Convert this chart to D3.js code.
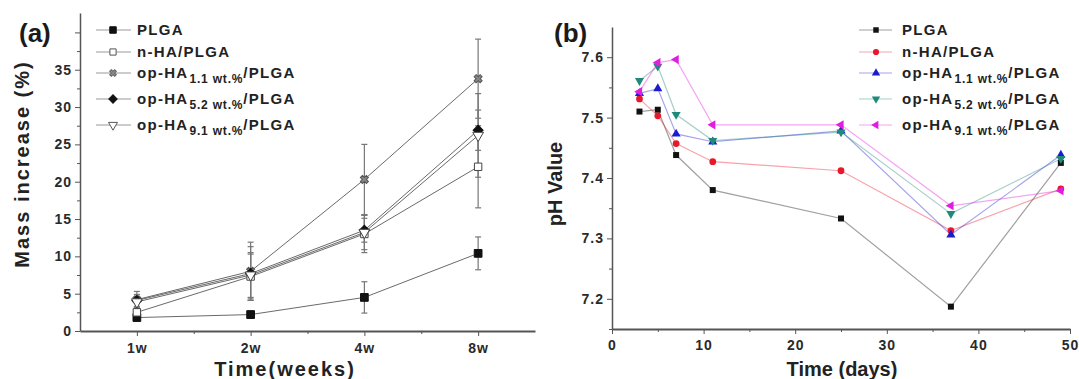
<!DOCTYPE html>
<html>
<head>
<meta charset="utf-8">
<style>
    body { margin: 0; background: white; }
    svg { display: block; font-family: 'Liberation Sans', Arial, sans-serif; font-weight: bold; }
    .axis path, .axis line { stroke: #555; }
    .axis text { fill: #2a2a2a; font-size: 14px; font-weight: bold; letter-spacing: 1px; font-family: 'Liberation Sans', Arial, sans-serif; }
</style>
</head>
<body>
<svg width="1079" height="379"></svg>
<script src="https://d3js.org/d3.v7.min.js"></script>
<script>
    // ---------- data, panel (a) ----------
    let weeks = ["1w", "2w", "4w", "8w"];
    let massNames = ["PLGA", "n-HA/PLGA", "op-HA|1.1 wt.%|/PLGA", "op-HA|5.2 wt.%|/PLGA", "op-HA|9.1 wt.%|/PLGA"];
    let massPLGA = [1.8, 2.2, 4.5, 10.4];
    let massNHA = [2.5, 7.3, 13.0, 22.0];
    let massOp11 = [4.2, 8.0, 20.3, 33.8];
    let massOp52 = [4.1, 7.7, 13.5, 26.9];
    let massOp91 = [3.9, 7.5, 13.2, 26.2];
    let errPLGA = [0.4, 0.5, 2.1, 2.2];
    let errNHA = [0.6, 3.0, 2.5, 5.5];
    let errOp11 = [1.1, 3.9, 4.7, 5.3];
    let errOp52 = [0.8, 3.6, 1.6, 2.7];
    let errOp91 = [0.7, 3.0, 2.3, 5.6];
    let massTicks = [0, 5, 10, 15, 20, 25, 30, 35, 40];

    // ---------- data, panel (b) ----------
    let days = [3, 5, 7, 11, 25, 37, 49];
    let phNames = massNames;
    let phPLGA = [7.510, 7.513, 7.438, 7.380, 7.333, 7.187, 7.425];
    let phNHA = [7.531, 7.503, 7.457, 7.427, 7.412, 7.313, 7.382];
    let phOp11 = [7.540, 7.548, 7.473, 7.460, 7.478, 7.306, 7.438];
    let phOp52 = [7.561, 7.585, 7.505, 7.462, 7.476, 7.341, 7.432];
    let phOp91 = [7.543, 7.591, 7.596, 7.488, 7.488, 7.354, 7.379];
    let phColors = ["#111111", "#e8182c", "#1c1ccf", "#1f8a7a", "#e01ee0"];
    let dayTicks = [0, 10, 20, 30, 40, 50];
    let phTicks = [7.2, 7.3, 7.4, 7.5, 7.6];

    let svg = d3.select("svg");

    // ================= panel (a) =================
    let xA = d3.scalePoint().domain(weeks).range([80, 535]).padding(0.5);
    let yA = d3.scaleLinear().domain([0, 42.6]).range([331, 13]);

    let gA = svg.append("g");

    // minor ticks
    gA.append("g").attr("class", "axis")
        .attr("transform", "translate(80,0)")
        .call(d3.axisLeft(yA).tickValues(d3.range(2.5, 42, 5)).tickSize(3).tickFormat(""))
        .call(g => g.select(".domain").remove());
    gA.append("g").attr("class", "axis")
        .attr("transform", "translate(0,331)")
        .call(d3.axisBottom(d3.scaleLinear().domain([0, 4]).range([80, 535])).tickValues([1, 2, 3]).tickSize(3).tickFormat(""))
        .call(g => g.select(".domain").remove());

    gA.append("g").attr("class", "axis")
        .attr("transform", "translate(80,0)")
        .call(d3.axisLeft(yA).tickValues(massTicks).tickSize(5).tickSizeOuter(0)
            .tickFormat(d => d == 40 ? "" : d))
        .call(g => g.select(".domain").attr("stroke-width", 1.5));
    gA.append("g").attr("class", "axis")
        .attr("transform", "translate(0,331)")
        .call(d3.axisBottom(xA).tickSize(5).tickSizeOuter(0).tickPadding(7))
        .call(g => g.select(".domain").attr("stroke-width", 2));

    gA.append("text").text("Time(weeks)")
        .attr("x", 285).attr("y", 376).attr("text-anchor", "middle")
        .attr("font-size", 20).attr("letter-spacing", 2).attr("fill", "#222");
    gA.append("text").text("Mass increase (%)")
        .attr("transform", "translate(29,164) rotate(-90)").attr("text-anchor", "middle")
        .attr("font-size", 20).attr("letter-spacing", 2).attr("fill", "#222");
    gA.append("text").text("(a)")
        .attr("x", 19).attr("y", 42).attr("font-size", 26).attr("fill", "#1a1a1a");

    let massSeries = [
        { vals: massPLGA, errs: errPLGA, sym: d3.symbolSquare, rot: 0, fill: "#111", size: 60 },
        { vals: massNHA, errs: errNHA, sym: d3.symbolSquare, rot: 0, fill: "white", size: 55 },
        { vals: massOp11, errs: errOp11, sym: d3.symbolCross, rot: 45, fill: "#888", size: 40 },
        { vals: massOp52, errs: errOp52, sym: d3.symbolSquare, rot: 45, fill: "#111", size: 50 },
        { vals: massOp91, errs: errOp91, sym: d3.symbolTriangle, rot: 180, fill: "white", size: 50 }
    ];

    let lineA = d3.line().x((d, i) => xA(weeks[i])).y(d => yA(d));

    massSeries.forEach(s => {
        let eg = gA.append("g").attr("stroke", "#777").attr("stroke-width", 1.2);
        s.vals.forEach((v, i) => {
            let x = xA(weeks[i]);
            eg.append("line").attr("x1", x).attr("x2", x).attr("y1", yA(v - s.errs[i])).attr("y2", yA(v + s.errs[i]));
            [v - s.errs[i], v + s.errs[i]].forEach(e => {
                eg.append("line").attr("x1", x - 3).attr("x2", x + 3).attr("y1", yA(e)).attr("y2", yA(e));
            });
        });
    });

    massSeries.forEach(s => {
        gA.append("path").datum(s.vals)
            .attr("d", lineA).attr("fill", "none").attr("stroke", "#6a6a6a").attr("stroke-width", 1);
    });

    massSeries.forEach(s => {
        gA.append("g").selectAll("path")
            .data(s.vals)
            .join("path")
            .attr("d", d3.symbol().type(s.sym).size(s.size))
            .attr("transform", (d, i) => `translate(${xA(weeks[i])},${yA(d)}) rotate(${s.rot})`)
            .attr("fill", s.fill)
            .attr("stroke", s.fill == "white" ? "#444" : (s.fill == "#888" ? "#555" : "#111"))
            .attr("stroke-width", 1);
    });

    // legend (a)
    let legRowsA = [30, 52, 73, 99, 125];
    massSeries.forEach((s, i) => {
        let lg = gA.append("g").attr("transform", `translate(0,${legRowsA[i]})`);
        lg.append("line").attr("x1", 96).attr("x2", 131).attr("stroke", "#999").attr("stroke-width", 1.2);
        lg.append("path")
            .attr("d", d3.symbol().type(s.sym).size(s.size * 0.7))
            .attr("transform", `translate(113,0) rotate(${s.rot})`)
            .attr("fill", s.fill)
            .attr("stroke", s.fill == "white" ? "#555" : (s.fill == "#888" ? "#666" : "#111"));
        addLabel(lg, massNames[i], 137);
    });

    // ================= panel (b) =================
    let xB = d3.scaleLinear().domain([0, 50]).range([612, 1070]);
    let yB = d3.scaleLinear().domain([7.15, 7.65]).range([329, 27]);

    let gB = svg.append("g");

    gB.append("g").attr("class", "axis")
        .attr("transform", "translate(612,0)")
        .call(d3.axisLeft(yB).tickValues(d3.range(7.15, 7.65, 0.1)).tickSize(3).tickFormat(""))
        .call(g => g.select(".domain").remove());
    gB.append("g").attr("class", "axis")
        .attr("transform", "translate(0,329)")
        .call(d3.axisBottom(xB).tickValues(d3.range(5, 50, 10)).tickSize(3).tickFormat(""))
        .call(g => g.select(".domain").remove());

    gB.append("g").attr("class", "axis")
        .attr("transform", "translate(612,0)")
        .call(d3.axisLeft(yB).tickValues(phTicks).tickSize(5).tickSizeOuter(0).tickFormat(d3.format(".1f")))
        .call(g => g.select(".domain").attr("stroke-width", 1.5));
    gB.append("g").attr("class", "axis")
        .attr("transform", "translate(0,329)")
        .call(d3.axisBottom(xB).tickValues(dayTicks).tickSize(5).tickSizeOuter(0).tickPadding(6))
        .call(g => g.select(".domain").attr("stroke-width", 2));

    gB.append("text").text("Time (days)")
        .attr("x", 842).attr("y", 376).attr("text-anchor", "middle")
        .attr("font-size", 20).attr("fill", "#222");
    gB.append("text").text("pH Value")
        .attr("transform", "translate(562,184) rotate(-90)").attr("text-anchor", "middle")
        .attr("font-size", 20).attr("fill", "#222");
    gB.append("text").text("(b)")
        .attr("x", 554).attr("y", 42).attr("font-size", 26).attr("fill", "#1a1a1a");

    let phSeries = [
        { vals: phPLGA, sym: d3.symbolSquare, rot: 0 },
        { vals: phNHA, sym: d3.symbolCircle, rot: 0 },
        { vals: phOp11, sym: d3.symbolTriangle, rot: 0 },
        { vals: phOp52, sym: d3.symbolTriangle, rot: 180 },
        { vals: phOp91, sym: d3.symbolTriangle, rot: -90 }
    ];

    let lineB = d3.line().x((d, i) => xB(days[i])).y(d => yB(d));

    phSeries.forEach((s, k) => {
        gB.append("path").datum(s.vals)
            .attr("d", lineB).attr("fill", "none")
            .attr("stroke", phColors[k]).attr("stroke-opacity", 0.4).attr("stroke-width", 1.2);
    });
    phSeries.forEach((s, k) => {
        gB.append("g").selectAll("path")
            .data(s.vals)
            .join("path")
            .attr("d", d3.symbol().type(s.sym).size(36))
            .attr("transform", (d, i) => `translate(${xB(days[i])},${yB(d)}) rotate(${s.rot})`)
            .attr("fill", phColors[k]);
    });

    // legend (b)
    let legRowsB = [30, 52, 73, 99, 125];
    phSeries.forEach((s, k) => {
        let lg = gB.append("g").attr("transform", `translate(0,${legRowsB[k]})`);
        lg.append("line").attr("x1", 859).attr("x2", 892)
            .attr("stroke", phColors[k]).attr("stroke-opacity", 0.4).attr("stroke-width", 1.2);
        lg.append("path")
            .attr("d", d3.symbol().type(s.sym).size(30))
            .attr("transform", `translate(876,0) rotate(${s.rot})`)
            .attr("fill", phColors[k]);
        addLabel(lg, phNames[k], 902);
    });

    // legend text with subscript part: "main|sub|tail"
    function addLabel(g, name, x) {
        let parts = name.split("|");
        let t = g.append("text").attr("x", x).attr("y", 5)
            .attr("font-size", 15).attr("letter-spacing", 1.3).attr("fill", "#222");
        t.append("tspan").text(parts[0]);
        if (parts.length > 1) {
            t.append("tspan").text(parts[1]).attr("font-size", 12).attr("letter-spacing", 0.8).attr("dy", 5).attr("dx", 1);
            t.append("tspan").text(parts[2]).attr("dy", -5);
        }
    }
</script>
</body>
</html>
